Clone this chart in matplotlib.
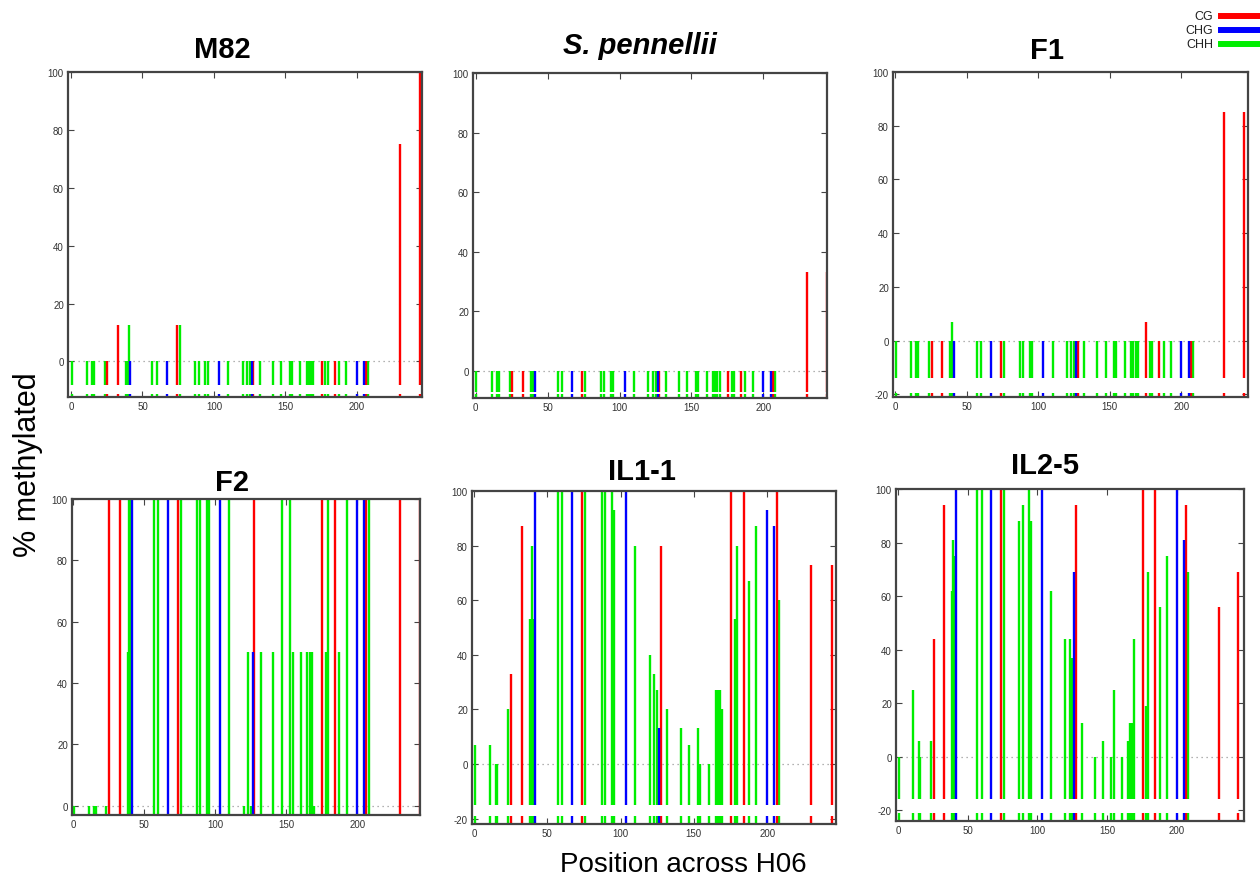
import numpy as np
import matplotlib
matplotlib.use("Agg")
import matplotlib.pyplot as plt
from matplotlib.lines import Line2D

plt.rcParams['font.family'] = ['Liberation Sans', 'DejaVu Sans']
plt.rcParams['axes.unicode_minus'] = False

W, H = 1260, 878

# cytosine positions along H06 and their context
positions = [0.5, 11, 15, 16, 23.5, 25.5, 33, 38.5, 39.5, 40.5, 41.5, 57, 60, 67, 74, 76,
             87, 89.5, 94, 95.5, 103.5, 110, 120, 123, 125, 126.5, 127.5, 132, 141, 147,
             153, 154.5, 160.5, 165, 166.5, 168, 169.5, 175.5, 178, 179.5, 184.5, 187.5,
             192.5, 200, 205, 206.5, 208, 230, 244]
contexts = ['CHH', 'CHH', 'CHH', 'CHH', 'CHH', 'CG', 'CG', 'CHH', 'CHH', 'CHH', 'CHG', 'CHH',
            'CHH', 'CHG', 'CG', 'CHH', 'CHH', 'CHH', 'CHH', 'CHH', 'CHG', 'CHH', 'CHH', 'CHH',
            'CHH', 'CHG', 'CG', 'CHH', 'CHH', 'CHH', 'CHH', 'CHH', 'CHH', 'CHH', 'CHH', 'CHH',
            'CHH', 'CG', 'CHH', 'CHH', 'CG', 'CHH', 'CHH', 'CHG', 'CHG', 'CG', 'CHH', 'CG', 'CG']

n = len(positions)
m82 = [0] * n
m82[6] = 12.5; m82[9] = 12.5; m82[14] = 12.5; m82[15] = 12.5; m82[47] = 75; m82[48] = 100
spen = [0] * n
spen[47] = 33; spen[48] = 33
f1 = [0] * n
f1[8] = 7; f1[37] = 7; f1[47] = 85; f1[48] = 85
f2 = [0, 0, 0, 0, 0, 100, 100, 50, 100, 100, 100, 100, 100, 100, 100, 100, 100, 100, 100, 100,
      100, 100, 0, 50, 0, 50, 100, 50, 50, 100, 100, 50, 50, 50, 50, 50, 0, 100, 50, 100, 100,
      50, 100, 100, 100, 100, 100, 100, 100]
il1_1 = [7, 7, 0, 0, 20, 33, 87, 53, 80, 53, 100, 100, 100, 100, 100, 100, 100, 100, 100, 93,
         100, 80, 40, 33, 27, 13, 80, 20, 13, 7, 13, 0, 0, 27, 27, 27, 20, 100, 53, 80, 100, 67,
         87, 93, 87, 100, 60, 73, 73]
il2_5 = [0, 25, 6, 0, 6, 44, 94, 62, 81, 75, 100, 100, 100, 100, 100, 100, 88, 94, 100, 88,
         100, 62, 44, 44, 37, 69, 94, 12.5, 0, 6, 0, 25, 0, 6, 12.5, 12.5, 44, 100, 19, 69, 100,
         56, 75, 100, 81, 94, 69, 56, 69]

colors = {'CG': '#ff0000', 'CHG': '#0000ff', 'CHH': '#00ee00'}

# title, values, italic, axes box in px (left, top, right, bottom), x range, y min, bar base, strip top
panels = [
    ("M82", m82, False, (68, 73, 422, 398), (-2.1, 245.5), -12.3, -8.2, -11.2, (222, 58)),
    ("S. pennellii", spen, True, (473, 74, 827, 399), (-1.9, 244.2), -9.2, -7.3, -8.0, (640, 54)),
    ("F1", f1, False, (893, 73, 1248, 398), (-1.4, 246.5), -21, -14, -19.5, (1047, 59)),
    ("F2", f2, False, (72, 500, 420, 816), (-0.7, 244.2), -3.05, -3.05, -3.05, (232, 491)),
    ("IL1-1", il1_1, False, (472, 492, 836, 825), (-1.4, 247), -22, -15, -19, (642, 480)),
    ("IL2-5", il2_5, False, (896, 490, 1244, 822), (-1.4, 248), -24, -15.7, -21, (1045, 474)),
]

fig = plt.figure(figsize=(W / 100, H / 100), dpi=100)

for title, vals, italic, box, xr, ymin, base, strip, tpos in panels:
    l, t, r, b = box
    ax = fig.add_axes([l / W, 1 - b / H, (r - l) / W, (b - t) / H])
    ax.axhline(0, color='#999999', lw=0.9, ls=(0, (1, 3)), zorder=1)
    for ctx in ['CHH', 'CG', 'CHG']:
        xs = [p for p, c in zip(positions, contexts) if c == ctx]
        ys = [v for v, c in zip(vals, contexts) if c == ctx]
        ax.vlines(xs, base, ys, colors=colors[ctx], lw=1.7, zorder=2)
        if strip > ymin:
            ax.vlines(xs, ymin, strip, colors=colors[ctx], lw=1.7, zorder=2)
    ax.set_xticks([0, 50, 100, 150, 200])
    ax.set_yticks(range(-20, 101, 20))
    ax.set_xlim(*xr)
    ax.set_ylim(ymin, 100)
    ax.tick_params(direction='in', length=4, width=0.8, colors='#444444', labelcolor='#333333',
                   labelsize=7, top=True, right=True, pad=3)
    for s in ax.spines.values():
        s.set_color('#444444')
        s.set_linewidth(1.6)
    fig.text(tpos[0] / W, 1 - tpos[1] / H, title, ha='center', va='baseline', fontsize=21,
             fontweight='bold', style='italic' if italic else 'normal')

fig.text(28 / W, 1 - 465 / H, '% methylated', rotation=90, ha='center', va='center', fontsize=22)
fig.text(683 / W, 1 - 865 / H, 'Position across H06', ha='center', va='center', fontsize=20)

# legend in the top right corner
for i, ctx in enumerate(['CG', 'CHG', 'CHH']):
    y = 1 - (17 + 14 * i) / H
    fig.text(1213 / W, y, ctx, ha='right', va='center', fontsize=9, color='#222222')
    fig.add_artist(Line2D([1221 / W, 1260 / W], [y, y], color=colors[ctx], lw=4.3,
                          transform=fig.transFigure))

fig.savefig('out.png', dpi=100)
